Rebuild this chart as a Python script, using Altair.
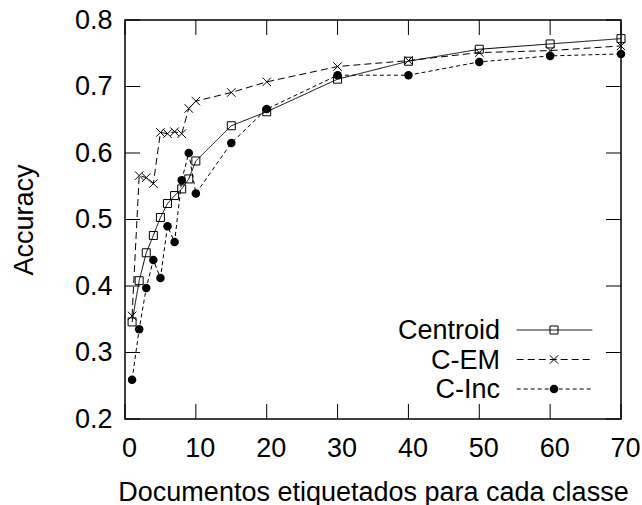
import altair as alt
import pandas as pd

# ---- data ----
docs = [1, 2, 3, 4, 5, 6, 7, 8, 9, 10, 15, 20, 30, 40, 50, 60, 70]
centroid = [0.346, 0.408, 0.450, 0.476, 0.503, 0.524, 0.536, 0.546, 0.561, 0.588,
            0.641, 0.662, 0.711, 0.738, 0.756, 0.764, 0.772]
c_em = [0.355, 0.566, 0.563, 0.554, 0.631, 0.629, 0.632, 0.629, 0.667, 0.678,
        0.691, 0.707, 0.730, 0.739, 0.751, 0.754, 0.761]
c_inc = [0.259, 0.335, 0.397, 0.439, 0.412, 0.490, 0.466, 0.559, 0.600, 0.539,
         0.615, 0.666, 0.717, 0.717, 0.737, 0.746, 0.749]

series_names = ["Centroid", "C-EM", "C-Inc"]
series_values = [centroid, c_em, c_inc]

x_ticks = [0, 10, 20, 30, 40, 50, 60, 70]
y_ticks = [0.2, 0.3, 0.4, 0.5, 0.6, 0.7, 0.8]

FONT = "Liberation Sans"
FS = 27
W, H = 496, 399
TICK = 15

xs = alt.Scale(domain=[0, 70], nice=False, zero=False)
ys = alt.Scale(domain=[0.2, 0.8], nice=False, zero=False)

styles = {
    "Centroid": dict(dash=[1, 0], shape="square", filled=False, size=64),
    "C-EM": dict(dash=[7, 4], shape="M-1,-1L1,1M-1,1L1,-1", filled=False, size=72),
    "C-Inc": dict(dash=[4, 3], shape="circle", filled=True, size=72),
}

x_axis = alt.Axis(values=x_ticks, format="d", ticks=False, tickSize=0, domain=False, grid=False,
                  labelFlush=False, labelOverlap=False,
                  labelFont=FONT, labelFontSize=FS, labelColor="black", labelPadding=16,
                  labelOffset=4, title="Documentos etiquetados para cada classe",
                  titleFont=FONT, titleFontSize=FS, titleFontWeight="normal", titleColor="black",
                  titleBaseline="alphabetic", titleY=81, titleX=W / 2)
y_axis = alt.Axis(values=y_ticks, format=".1f", ticks=False, tickSize=0, domain=False, grid=False,
                  labelFlush=False, labelOverlap=False,
                  labelFont=FONT, labelFontSize=FS, labelColor="black", labelPadding=13,
                  title="Accuracy", titleFont=FONT, titleFontSize=FS, titleFontWeight="normal",
                  titleColor="black", titleBaseline="alphabetic", titleX=-93, titleY=H / 2,
                  titleAngle=270)

layers = []

# inward tick marks on all four sides
xt = pd.DataFrame({"t": x_ticks})
yt = pd.DataFrame({"v": y_ticks})
layers.append(alt.Chart(xt).mark_rule(color="black", strokeWidth=1).encode(
    x=alt.X("t:Q", scale=xs, axis=x_axis), y=alt.value(H), y2=alt.value(H - TICK)))
layers.append(alt.Chart(xt).mark_rule(color="black", strokeWidth=1).encode(
    x=alt.X("t:Q", scale=xs), y=alt.value(0), y2=alt.value(TICK)))
layers.append(alt.Chart(yt).mark_rule(color="black", strokeWidth=1).encode(
    y=alt.Y("v:Q", scale=ys, axis=y_axis), x=alt.value(0), x2=alt.value(TICK)))
layers.append(alt.Chart(yt).mark_rule(color="black", strokeWidth=1).encode(
    y=alt.Y("v:Q", scale=ys), x=alt.value(W - TICK), x2=alt.value(W)))

# series
for name, vals in zip(series_names, series_values):
    st = styles[name]
    df = pd.DataFrame({"docs": docs, "acc": vals})
    base = alt.Chart(df).encode(x=alt.X("docs:Q", scale=xs), y=alt.Y("acc:Q", scale=ys))
    layers.append(base.mark_line(color="black", strokeWidth=1, strokeDash=st["dash"]))
    layers.append(base.mark_point(shape=st["shape"], filled=st["filled"], size=st["size"],
                                  color="black", strokeWidth=1, opacity=1,
                                  fill="black" if st["filled"] else "transparent"))

# legend (bottom right, inside the plot)
row_y = [310, 339.5, 369]
for name, ry in zip(series_names, row_y):
    st = styles[name]
    ld = pd.DataFrame({"label": [name]})
    lb = alt.Chart(ld)
    layers.append(lb.mark_text(align="right", baseline="middle", font=FONT, fontSize=FS,
                               color="black", dy=1).encode(
        text="label:N", x=alt.value(375), y=alt.value(ry)))
    layers.append(lb.mark_rule(color="black", strokeWidth=1, strokeDash=st["dash"]).encode(
        x=alt.value(391.7), x2=alt.value(467.3), y=alt.value(ry)))
    layers.append(lb.mark_point(shape=st["shape"], filled=st["filled"], size=st["size"],
                                color="black", strokeWidth=1, opacity=1,
                                fill="black" if st["filled"] else "transparent").encode(
        x=alt.value(429), y=alt.value(ry)))

chart = alt.layer(*layers).properties(
    width=W, height=H,
    autosize=alt.AutoSizeParams(type="none"),
    padding={"left": 125, "top": 20, "right": 21, "bottom": 86},
    background="white",
).configure_view(stroke="black", strokeWidth=1.5)

chart.save("out.html", embed_options={"renderer": "svg", "actions": False})
